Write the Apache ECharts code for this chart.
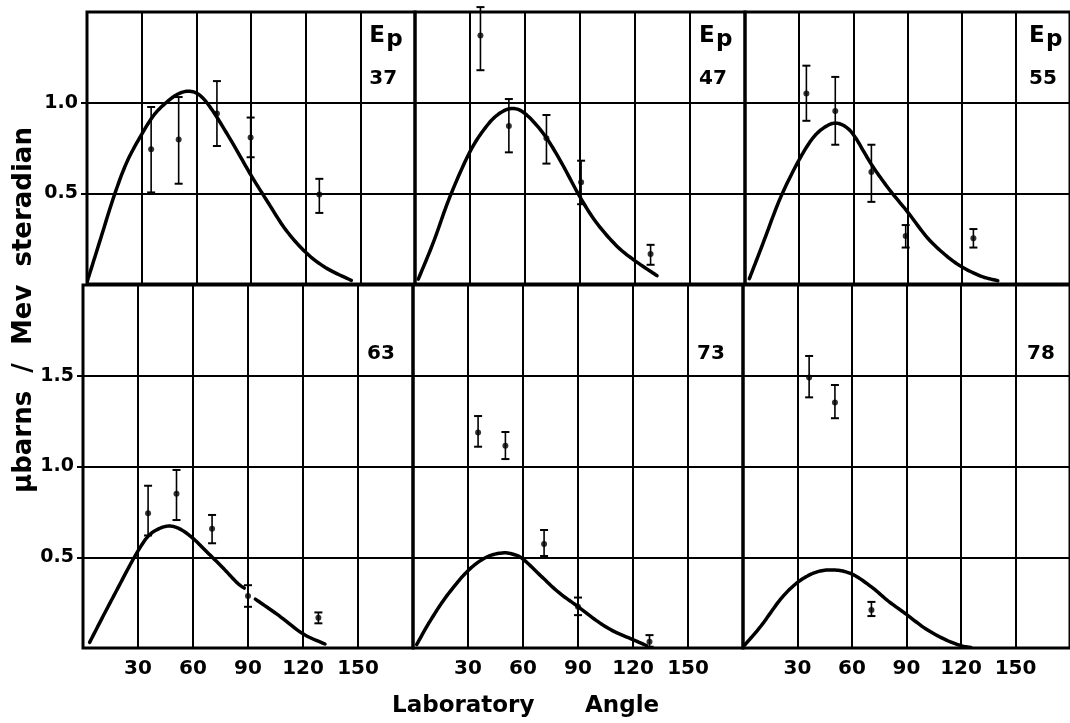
<!DOCTYPE html>
<html>
<head>
<meta charset="utf-8">
<script src="https://cdn.jsdelivr.net/npm/echarts@6/dist/echarts.min.js"></script>
<style>
html,body{margin:0;padding:0;background:#fff;}
#c{width:1070px;height:723px;}
</style>
</head>
<body>
<div id="c"></div>
<script>
// ---------- data ----------
const energies = ['37', '47', '55', '63', '73', '78'];
const xTickValues = [30, 60, 90, 120, 150];
const xTickLabels = ['30', '60', '90', '120', '150'];
const yTickValuesTop = [0.5, 1.0];
const yTickLabelsTop = ['0.5', '1.0'];
const yTickValuesBottom = [0.5, 1.0, 1.5];
const yTickLabelsBottom = ['0.5', '1.0', '1.5'];
const yTitle = 'μbarns  /  Mev  steradian';
const xTitleWords = ['Laboratory', 'Angle'];

// theoretical curves [angle (deg), value]
const curve37 = [[0,0.01],[7,0.235],[15,0.49],[22,0.675],[30,0.825],[37,0.935],[44,1.005],[50,1.048],[56,1.063],[62,1.04],[69,0.955],[80,0.775],[90,0.6],[99,0.455],[109,0.3],[120,0.175],[131,0.09],[145,0.02]];
const curve47 = [[1.8,0.027],[10,0.229],[19,0.48],[30,0.73],[39,0.87],[46,0.94],[53,0.968],[60,0.94],[70,0.83],[79,0.685],[90,0.48],[99,0.338],[110,0.21],[120,0.128],[132,0.046]];
const curve55 = [[2.4,0.029],[10,0.225],[19.6,0.475],[30,0.685],[38,0.81],[45,0.87],[50.5,0.887],[56,0.865],[61,0.81],[70,0.66],[80,0.52],[90,0.398],[101,0.255],[111,0.16],[120,0.095],[131,0.042],[140,0.018]];
const curve63Left = [[3.6,0.031],[11,0.176],[19,0.33],[28,0.5],[35,0.61],[41,0.655],[47,0.672],[53,0.655],[60,0.604],[68,0.525],[76,0.445],[84,0.36],[88,0.33]];
const curve63Right = [[94,0.269],[106,0.185],[120,0.078],[132,0.022]];
const curve73 = [[2,0.019],[9.3,0.148],[18.4,0.287],[30,0.426],[40,0.5],[49,0.524],[55,0.515],[60,0.49],[70.6,0.389],[79.5,0.306],[90,0.228],[100.5,0.148],[109.3,0.093],[120,0.046],[127.4,0.013]];
const curve78 = [[0,0.006],[9.8,0.12],[20.7,0.269],[30,0.361],[40,0.417],[50,0.43],[60,0.407],[70.9,0.335],[79.9,0.259],[90,0.185],[100.5,0.106],[111.4,0.046],[120,0.013],[125.4,0.003]];

// measured points: angle, value, error low, error high
const angles37 = [35.2, 50.3, 71.3, 89.8, 127.5];
const values37 = [0.743, 0.797, 0.94, 0.808, 0.493];
const low37    = [0.505, 0.553, 0.761, 0.699, 0.392];
const high37   = [0.976, 1.031, 1.119, 0.918, 0.58];

const angles47 = [35.7, 51.2, 71.7, 90.6, 128.5];
const values47 = [1.371, 0.872, 0.804, 0.561, 0.165];
const low47    = [1.179, 0.726, 0.664, 0.44, 0.106];
const high47   = [1.527, 1.02, 0.932, 0.68, 0.216];

const angles55 = [34, 50, 70, 89, 126.5];
const values55 = [1.051, 0.954, 0.617, 0.265, 0.252];
const low55    = [0.9, 0.768, 0.453, 0.201, 0.201];
const high55   = [1.204, 1.142, 0.768, 0.325, 0.303];

const angles63 = [35.5, 51, 70.4, 90, 128.4];
const values63 = [0.742, 0.85, 0.657, 0.286, 0.167];
const low63    = [0.62, 0.705, 0.577, 0.227, 0.136];
const high63   = [0.894, 0.981, 0.733, 0.346, 0.196];

const angles73 = [35.5, 50.4, 71.5, 90, 129];
const values73 = [1.188, 1.115, 0.573, 0.227, 0.035];
const low73    = [1.109, 1.041, 0.507, 0.181, 0.007];
const high73   = [1.278, 1.19, 0.65, 0.278, 0.071];

const angles78 = [36.4, 50.6, 70.7];
const values78 = [1.491, 1.352, 0.209];
const low78    = [1.381, 1.266, 0.176];
const high78   = [1.609, 1.449, 0.254];

// ---------- layout / style ----------
const FONT = '"DejaVu Sans", sans-serif';
const GRIDS = [
  {left: 87,  top: 12,  width: 328, height: 272},
  {left: 415, top: 12,  width: 330, height: 272},
  {left: 745, top: 12,  width: 330, height: 272},
  {left: 83,  top: 285, width: 330, height: 363},
  {left: 413, top: 285, width: 330, height: 363},
  {left: 743, top: 285, width: 330, height: 363}
];

const panels = [
  {curves: [curve37], a: angles37, v: values37, lo: low37, hi: high37},
  {curves: [curve47], a: angles47, v: values47, lo: low47, hi: high47},
  {curves: [curve55], a: angles55, v: values55, lo: low55, hi: high55},
  {curves: [curve63Left, curve63Right], a: angles63, v: values63, lo: low63, hi: high63},
  {curves: [curve73], a: angles73, v: values73, lo: low73, hi: high73},
  {curves: [curve78], a: angles78, v: values78, lo: low78, hi: high78}
];

// Catmull-Rom interpolation in pixel space (drawing only)
function splinePath(pts, steps) {
  const out = [];
  for (let i = 0; i < pts.length - 1; i++) {
    const p0 = pts[i - 1] || pts[i];
    const p1 = pts[i];
    const p2 = pts[i + 1];
    const p3 = pts[i + 2] || pts[i + 1];
    for (let s = 0; s < steps; s++) {
      const t = s / steps, t2 = t * t, t3 = t2 * t;
      out.push([
        0.5 * ((2 * p1[0]) + (-p0[0] + p2[0]) * t + (2 * p0[0] - 5 * p1[0] + 4 * p2[0] - p3[0]) * t2 + (-p0[0] + 3 * p1[0] - 3 * p2[0] + p3[0]) * t3),
        0.5 * ((2 * p1[1]) + (-p0[1] + p2[1]) * t + (2 * p0[1] - 5 * p1[1] + 4 * p2[1] - p3[1]) * t2 + (-p0[1] + 3 * p1[1] - 3 * p2[1] + p3[1]) * t3)
      ]);
    }
  }
  out.push(pts[pts.length - 1]);
  return out;
}

const grid = GRIDS.map(g => Object.assign({}, g, {
  show: true, borderColor: '#000', borderWidth: 3, containLabel: false
}));

const xAxis = GRIDS.map((g, i) => ({
  gridIndex: i, type: 'value', min: 0, max: 180, interval: 30,
  axisLine: {show: false}, axisTick: {show: false},
  splitLine: {show: true, lineStyle: {color: '#000', width: 2}},
  axisLabel: {
    show: i >= 3, margin: 11, color: '#000', fontFamily: FONT, fontWeight: 'bold', fontSize: 20,
    customValues: xTickValues,
    formatter: v => { const k = xTickValues.indexOf(Math.round(v)); return k >= 0 ? xTickLabels[k] : ''; }
  }
}));

const yAxis = GRIDS.map((g, i) => {
  const top = i < 3;
  const vals = top ? yTickValuesTop : yTickValuesBottom;
  const labels = top ? yTickLabelsTop : yTickLabelsBottom;
  const first = i === 0 || i === 3;
  return {
    gridIndex: i, type: 'value', min: 0, max: top ? 1.5 : 2.0, interval: 0.5,
    axisLine: {show: false},
    axisTick: {show: first, length: 6, customValues: vals, lineStyle: {color: '#000', width: 2}},
    splitLine: {show: true, lineStyle: {color: '#000', width: 2}},
    axisLabel: {
      show: first, margin: 9, color: '#000', fontFamily: FONT, fontWeight: 'bold', fontSize: 19,
      customValues: vals,
      formatter: v => { const k = vals.findIndex(t => Math.abs(t - v) < 1e-6); return k >= 0 ? labels[k] : ''; }
    }
  };
});

const series = [];
panels.forEach((p, i) => {
  p.curves.forEach(c => {
    series.push({
      type: 'custom', xAxisIndex: i, yAxisIndex: i, data: c, clip: true, z: 3, silent: true,
      encode: {x: 0, y: 1},
      renderItem: (params, api) => {
        if (params.dataIndex !== 0) return null;
        const pts = c.map(d => api.coord(d));
        return {
          type: 'polyline',
          shape: {points: splinePath(pts, 12)},
          style: {stroke: '#000', lineWidth: 3.5, fill: null, lineJoin: 'round', lineCap: 'round'}
        };
      }
    });
  });
  series.push({
    type: 'custom', xAxisIndex: i, yAxisIndex: i, clip: false, z: 4, silent: true,
    data: p.a.map((a, k) => [a, p.lo[k], p.hi[k]]),
    encode: {x: 0, y: [1, 2]},
    renderItem: (params, api) => {
      const x = api.value(0);
      const pl = api.coord([x, api.value(1)]);
      const ph = api.coord([x, api.value(2)]);
      const hw = 4;
      return {type: 'group', children: [
        {type: 'line', shape: {x1: pl[0], y1: pl[1], x2: ph[0], y2: ph[1]}, style: {stroke: '#000', lineWidth: 1.6}},
        {type: 'line', shape: {x1: pl[0] - hw, y1: pl[1], x2: pl[0] + hw, y2: pl[1]}, style: {stroke: '#000', lineWidth: 2}},
        {type: 'line', shape: {x1: ph[0] - hw, y1: ph[1], x2: ph[0] + hw, y2: ph[1]}, style: {stroke: '#000', lineWidth: 2}}
      ]};
    }
  });
  series.push({
    type: 'scatter', xAxisIndex: i, yAxisIndex: i, z: 5, silent: true,
    data: p.a.map((a, k) => [a, p.v[k]]),
    symbol: 'circle', symbolSize: 6, itemStyle: {color: '#000'}
  });
});

// panel labels
const graphic = [];
GRIDS.forEach((g, i) => {
  const lx = g.left + g.width * 5 / 6 + 9;
  if (i < 3) {
    graphic.push({type: 'text', x: lx, y: g.top + 13, style: {text: 'E', font: 'bold 23px ' + FONT, fill: '#000', textAlign: 'left', textVerticalAlign: 'top'}});
    graphic.push({type: 'text', x: lx + 17, y: g.top + 17, style: {text: 'p', font: 'bold 23px ' + FONT, fill: '#000', textAlign: 'left', textVerticalAlign: 'top'}});
    graphic.push({type: 'text', x: lx, y: g.top + 57, style: {text: energies[i], font: 'bold 20px ' + FONT, fill: '#000', textAlign: 'left', textVerticalAlign: 'top'}});
  } else {
    graphic.push({type: 'text', x: lx, y: g.top + 59, style: {text: energies[i], font: 'bold 20px ' + FONT, fill: '#000', textAlign: 'left', textVerticalAlign: 'top'}});
  }
});
graphic.push({type: 'text', x: 24, y: 310, rotation: Math.PI / 2,
  style: {text: yTitle, font: 'bold 26px ' + FONT, fill: '#000', textAlign: 'center', textVerticalAlign: 'middle'}});
graphic.push({type: 'text', x: 392, y: 706,
  style: {text: xTitleWords[0], font: 'bold 23px ' + FONT, fill: '#000', textAlign: 'left', textVerticalAlign: 'middle'}});
graphic.push({type: 'text', x: 585, y: 706,
  style: {text: xTitleWords[1], font: 'bold 23px ' + FONT, fill: '#000', textAlign: 'left', textVerticalAlign: 'middle'}});

const chart = echarts.init(document.getElementById('c'), null, {renderer: 'canvas'});
chart.setOption({
  backgroundColor: '#fff',
  animation: false,
  grid, xAxis, yAxis, series, graphic
});
</script>
</body>
</html>
